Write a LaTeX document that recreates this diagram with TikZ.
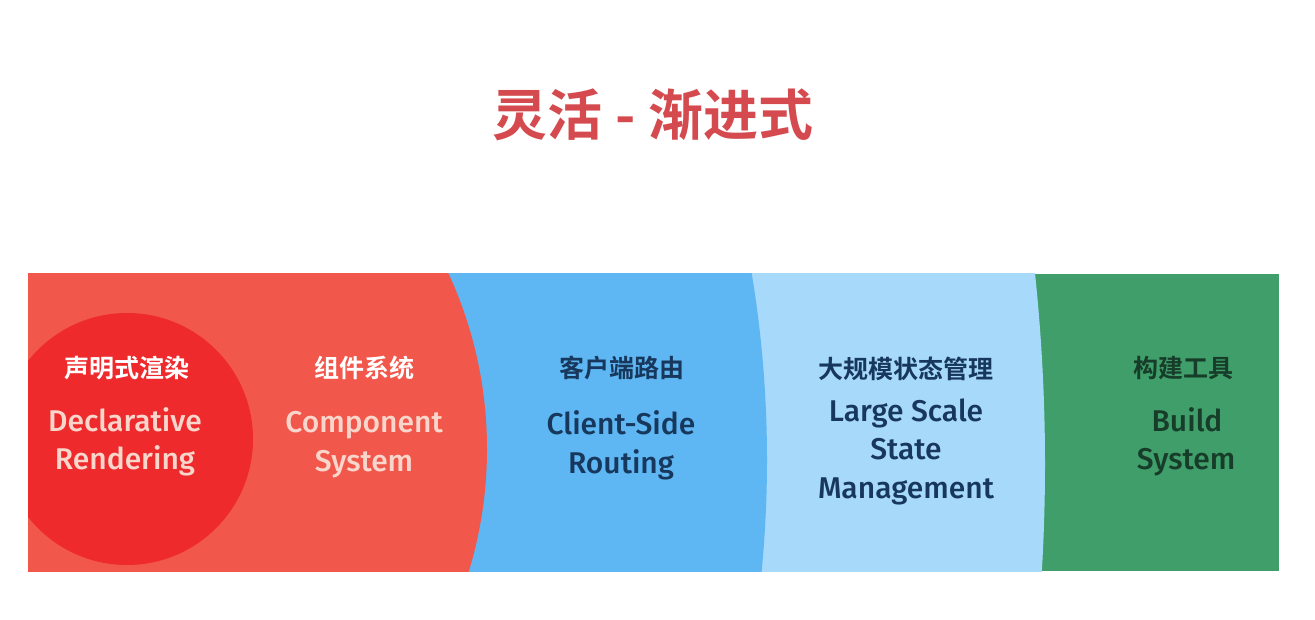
\documentclass[tikz,border=0pt]{standalone}
\usepackage{fontspec}
\setmainfont{Fira Sans}[UprightFont={* Medium}]
\newfontfamily\cjk{Noto Sans CJK SC}
\newfontfamily\cjkb{Noto Sans CJK SC}[UprightFont={* Bold}]
\definecolor{titlered}{HTML}{D44A4E}
\definecolor{redbig}{HTML}{F2574C}
\definecolor{reddark}{HTML}{EE2A2D}
\definecolor{bluemid}{HTML}{5EB6F2}
\definecolor{bluelight}{HTML}{A6D9FA}
\definecolor{greenband}{HTML}{3F9E69}
\definecolor{pinktext}{HTML}{F8D6CC}
\definecolor{navytext}{HTML}{17385C}
\definecolor{greentext}{HTML}{173D2A}
\tikzset{
  cnlabel/.style={font=\cjkb\fontsize{25}{28}\selectfont, inner sep=0pt},
  enline/.style={font=\fontsize{30}{36}\selectfont, inner sep=0pt, anchor=base},
}
\begin{document}
\begin{tikzpicture}[x=1pt,y=1pt]
\useasboundingbox (0,0) rectangle (1315,619);
\fill[white] (0,0) rectangle (1315,619);
% title
\node[font=\cjkb\fontsize{55}{60}\selectfont, text=titlered, inner sep=0pt] (title) at (653,504) {灵活 - 渐进式};
% band
\fill[greenband] (28,48) rectangle (1279,345);
\begin{scope}
\clip (28,48) rectangle (1279,345);
\fill[bluelight] (-752,155) circle[radius=1797pt];
\fill[bluemid] (-367,159) circle[radius=1134pt];
\fill[redbig] (69,170) circle[radius=418pt];
\fill[reddark] (127,180) circle[radius=126pt];
\end{scope}
% labels
\node[cnlabel, text=white] (c1) at (127,251) {声明式渲染};
\node[enline, text=pinktext] (e1a) at (125,187) {Declarative};
\node[enline, text=pinktext] (e1b) at (125,149) {Rendering};
\node[cnlabel, text=white] (c2) at (364,251) {组件系统};
\node[enline, text=pinktext] (e2a) at (364,186) {Component};
\node[enline, text=pinktext] (e2b) at (364,147) {System};
\node[cnlabel, text=navytext] (c3) at (622,251) {客户端路由};
\node[enline, text=navytext] (e3a) at (621,184) {Client-Side};
\node[enline, text=navytext] (e3b) at (621,146) {Routing};
\node[cnlabel, text=navytext] (c4) at (906,250) {大规模状态管理};
\node[enline, text=navytext] (e4a) at (906,197) {Large Scale};
\node[enline, text=navytext] (e4b) at (906,159) {State};
\node[enline, text=navytext] (e4c) at (906,121) {Management};
\node[cnlabel, text=greentext] (c5) at (1183,251) {构建工具};
\node[enline, text=greentext] (e5a) at (1187,187) {Build};
\node[enline, text=greentext] (e5b) at (1186,149) {System};
\end{tikzpicture}
\end{document}
